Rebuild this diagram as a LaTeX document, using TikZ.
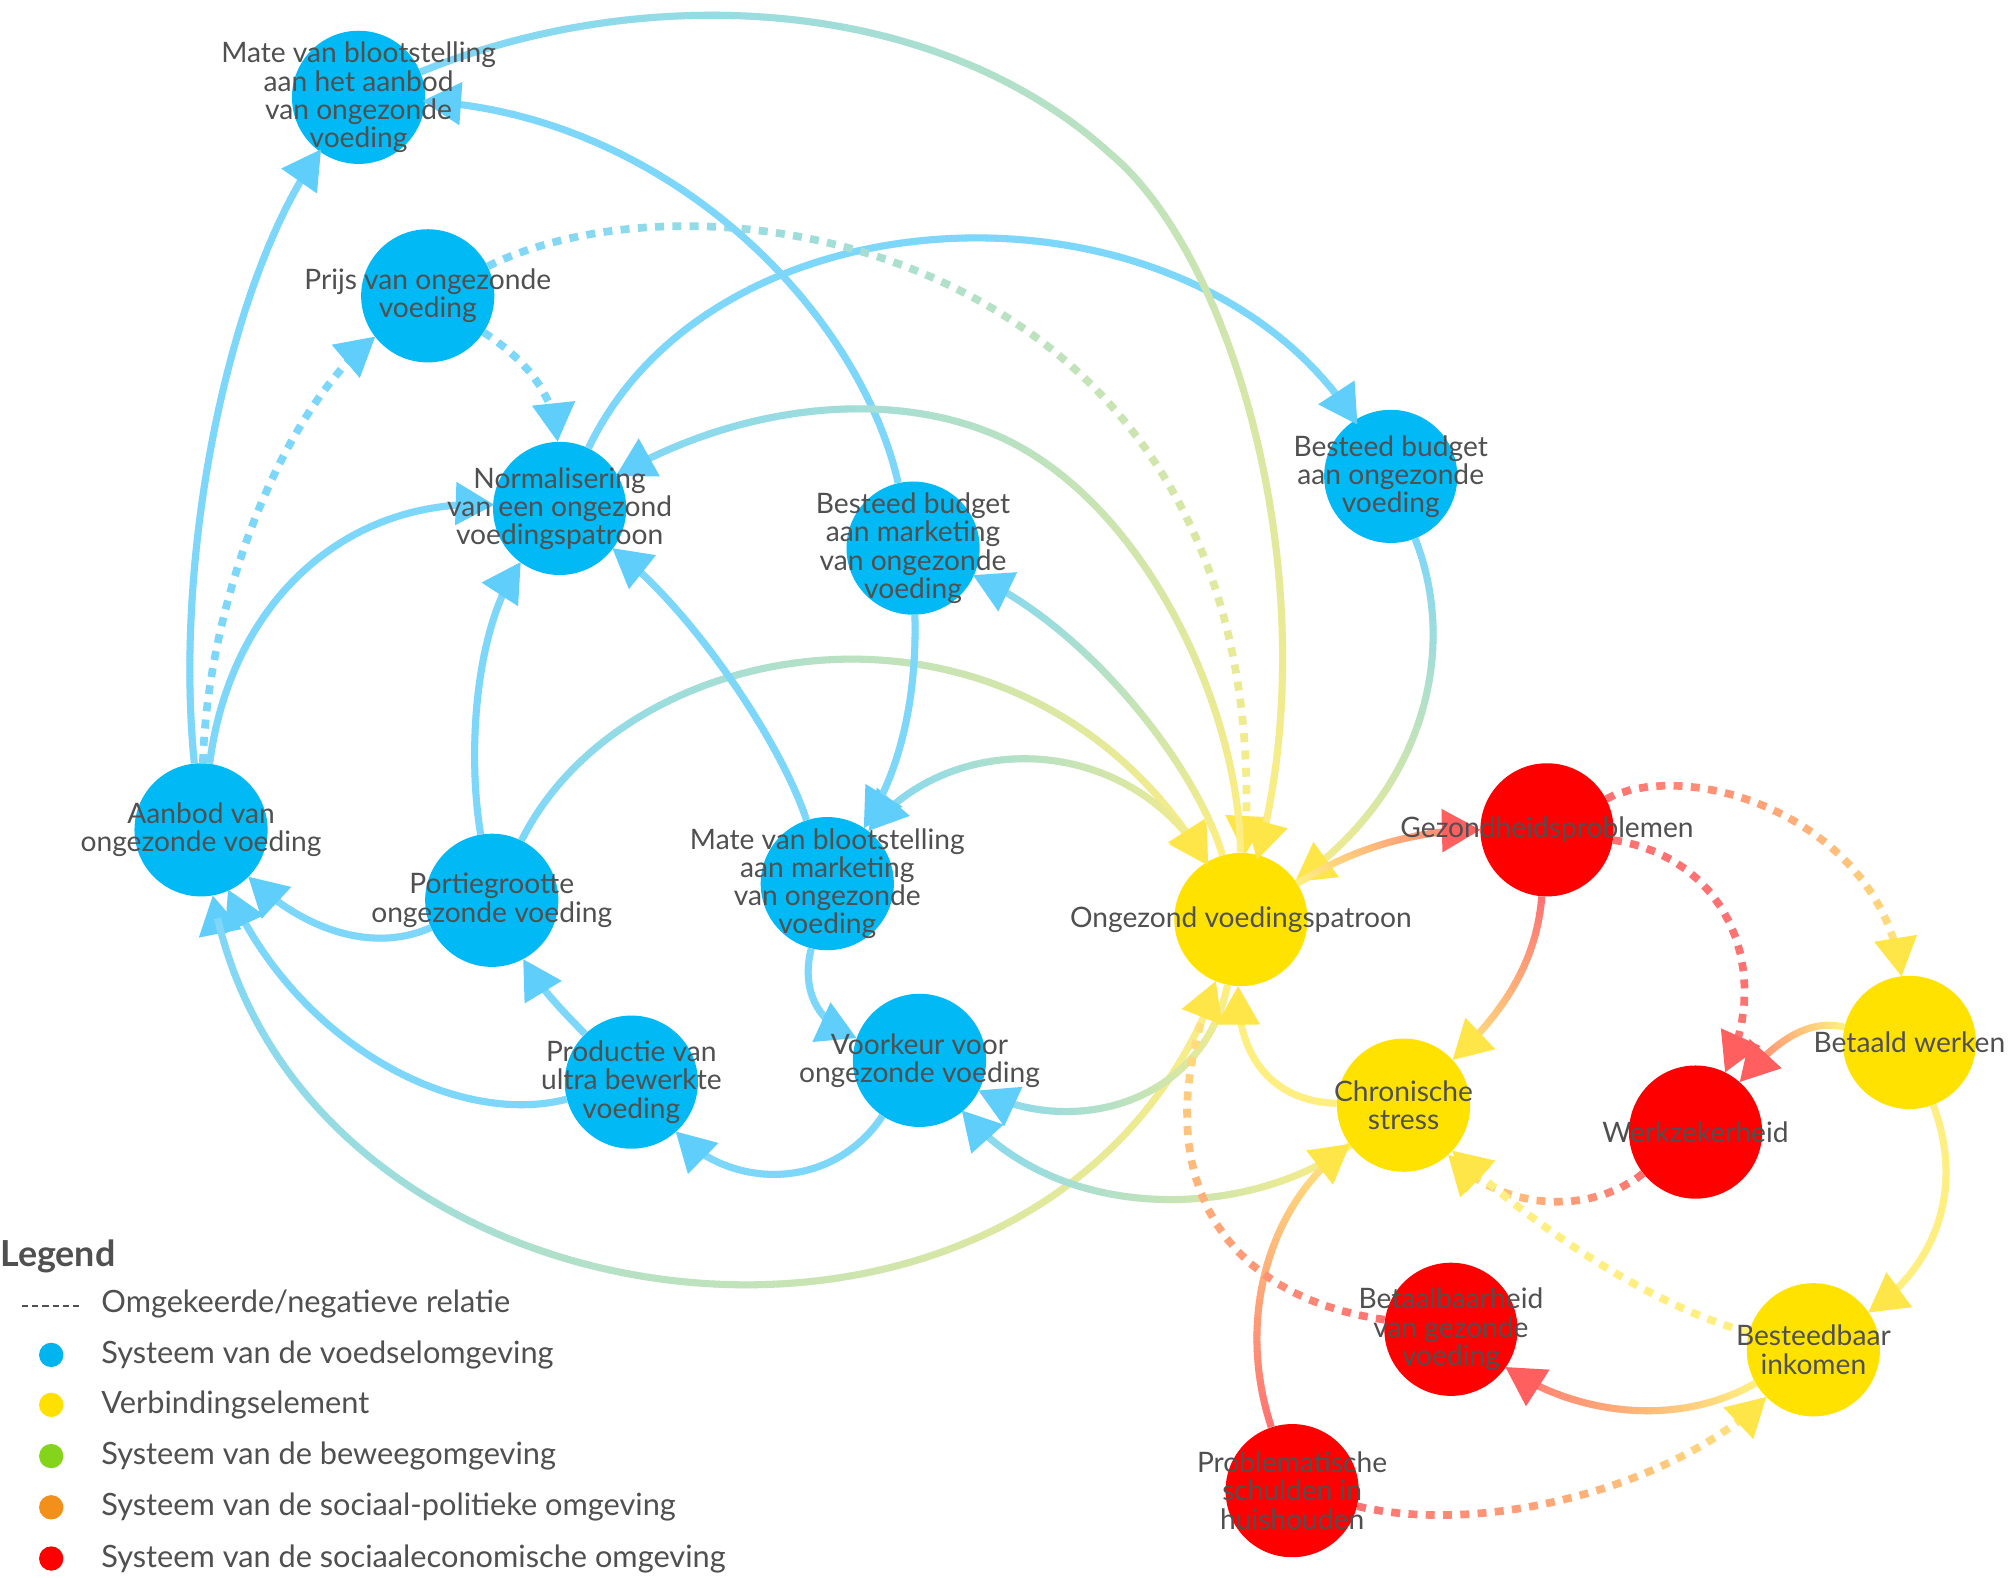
\documentclass[tikz,border=0pt]{standalone}
\usepackage{fontspec}
\setmainfont{Lato}
\usetikzlibrary{decorations.markings}
\definecolor{nb}{HTML}{00B9F5}
\definecolor{ny}{HTML}{FFE200}
\definecolor{nr}{HTML}{FF0000}
\definecolor{eb}{HTML}{7DD7FA}
\definecolor{ey}{HTML}{FFEE80}
\definecolor{er}{HTML}{FF7272}
\definecolor{ab}{HTML}{5FCEFA}
\definecolor{ay}{HTML}{FFE648}
\definecolor{ar}{HTML}{FF5F5F}
\definecolor{txt}{HTML}{505050}
\definecolor{lgb}{HTML}{00B4F0}
\definecolor{lgy}{HTML}{FFE000}
\definecolor{lgg}{HTML}{84D41C}
\definecolor{lgo}{HTML}{F39019}
\definecolor{lgr}{HTML}{FF0000}
\newcommand\gseg[4]{%
  \pgfmathtruncatemacro\mygf{\pgfkeysvalueof{/pgf/decoration/mark info/distance from start}/\pgfdecoratedpathlength*100}%
  \colorlet{gcur}{#2!\mygf!#1}%
  \draw[gcur, line width=#4] (0pt,0pt) -- (#3,0pt);}
\newcommand\tipEnd[1]{\fill[#1] (6pt,0pt) -- (-24pt,17pt) -- (-24pt,-17pt) -- cycle;}
\newcommand\tipStart[1]{\fill[#1] (-6pt,0pt) -- (24pt,17pt) -- (24pt,-17pt) -- cycle;}
\tikzset{
  circ/.style={circle, minimum size=104pt, inner sep=0pt, draw=none},
  bnode/.style={circ, fill=nb},
  ynode/.style={circ, fill=ny},
  rnode/.style={circ, fill=nr},
  lbl/.style={align=center, inner sep=0pt, text=txt, font=\fontsize{22}{22}\selectfont},
  legtxt/.style={anchor=west, inner sep=0pt, text=txt, font=\fontsize{24}{26}\selectfont},
  legdot/.style={circle, minimum size=19pt, inner sep=0pt, draw=none},
  lnk/.style n args={3}{decorate, decoration={markings,
      mark=between positions 0pt and -18pt step 2.5pt with {\gseg{#1}{#2}{3.2pt}{5.5pt}},
      mark=at position -6pt with {\tipEnd{#3}}}},
  dlnk/.style n args={3}{decorate, decoration={markings,
      mark=between positions 0pt and -22pt step 13.5pt with {\gseg{#1}{#2}{7pt}{6pt}},
      mark=at position -6pt with {\tipEnd{#3}}}},
  mlnk/.style n args={4}{decorate, decoration={markings,
      mark=at position 6pt with {\tipStart{#3}},
      mark=between positions 18pt and -18pt step 2.5pt with {\gseg{#1}{#2}{3.2pt}{5.5pt}},
      mark=at position -6pt with {\tipEnd{#4}}}},
}
\begin{document}
\begin{tikzpicture}[x=1pt,y=-1pt]
\useasboundingbox (0,0) rectangle (1568,1232);
\fill[white] (0,0) rectangle (1568,1232);
% nodes
\node[bnode] (ma) at (280,76) {};
\node[bnode] (prijs) at (334,231) {};
\node[bnode] (norm) at (437,397) {};
\node[bnode] (bbm) at (713,428) {};
\node[bnode] (bbo) at (1086,372) {};
\node[bnode] (aanbod) at (157,648) {};
\node[bnode] (portie) at (384,703) {};
\node[bnode] (mm) at (646,690) {};
\node[bnode] (prod) at (493,845) {};
\node[bnode] (voork) at (718,828) {};
\node[ynode] (ovp) at (969,718) {};
\node[rnode] (gez) at (1208,648) {};
\node[ynode] (cs) at (1096,863) {};
\node[rnode] (werk) at (1324,884) {};
\node[ynode] (bw) at (1491,814) {};
\node[rnode] (betaalb) at (1133,1038) {};
\node[ynode] (bi) at (1416,1054) {};
\node[rnode] (ps) at (1009,1164) {};
% edges
\path[lnk={eb}{eb}{ab}] (aanbod) .. controls (135,430) and (180,215) .. (ma);
\path[dlnk={eb}{eb}{ab}] (aanbod) .. controls (162,470) and (220,320) .. (prijs);
\path[lnk={eb}{eb}{ab}] (aanbod) .. controls (180,470) and (270,388) .. (norm);
\path[dlnk={eb}{eb}{ab}] (prijs) .. controls (412,282) and (434,310) .. (norm);
\path[lnk={eb}{eb}{ab}] (norm) .. controls (560,140) and (930,130) .. (bbo);
\path[dlnk={eb}{ey}{ay}] (prijs) .. controls (560,120) and (1000,200) .. (ovp);
\path[lnk={eb}{eb}{ab}] (bbm) .. controls (670,240) and (520,90) .. (ma);
\path[lnk={eb}{ey}{ay}] (ma) .. controls (502,-15) and (729,-5) .. (867,120) .. controls (967,204) and (1037,464) .. (ovp);
\path[lnk={ey}{eb}{ab}] (ovp) .. controls (968,560) and (900,400) .. (787,344) .. controls (700,302) and (580,315) .. (norm);
\path[lnk={ey}{eb}{ab}] (ovp) .. controls (935,600) and (850,490) .. (bbm);
\path[lnk={eb}{ey}{ay}] (portie) .. controls (490,490) and (800,440) .. (ovp);
\path[mlnk={eb}{ey}{ab}{ay}] (mm) .. controls (740,570) and (880,570) .. (ovp);
\path[lnk={eb}{eb}{ab}] (bbm) .. controls (716,540) and (705,600) .. (mm);
\path[lnk={eb}{eb}{ab}] (mm) .. controls (610,580) and (540,475) .. (norm);
\path[lnk={eb}{eb}{ab}] (portie) .. controls (365,590) and (370,490) .. (norm);
\path[lnk={eb}{eb}{ab}] (portie) .. controls (290,745) and (235,725) .. (aanbod);
\path[lnk={eb}{eb}{ab}] (prod) .. controls (440,790) and (420,770) .. (portie);
\path[lnk={eb}{eb}{ab}] (prod) .. controls (360,880) and (235,820) .. (aanbod);
\path[lnk={eb}{eb}{ab}] (mm) .. controls (625,775) and (640,800) .. (voork);
\path[lnk={eb}{eb}{ab}] (voork) .. controls (650,930) and (570,930) .. (prod);
\path[mlnk={eb}{ey}{ab}{ay}] (aanbod) .. controls (230,1055) and (820,1125) .. (ovp);
\path[lnk={ey}{eb}{ab}] (ovp) .. controls (940,860) and (840,890) .. (voork);
\path[lnk={ey}{eb}{ab}] (cs) .. controls (980,950) and (830,960) .. (voork);
\path[lnk={er}{ey}{ay}] (ps) .. controls (965,1030) and (990,940) .. (cs);
\path[lnk={eb}{ey}{ay}] (bbo) .. controls (1140,510) and (1110,620) .. (ovp);
\path[lnk={ey}{ey}{ay}] (cs) .. controls (990,860) and (965,820) .. (ovp);
\path[lnk={ey}{er}{ar}] (ovp) .. controls (1060,660) and (1110,648) .. (gez);
\path[lnk={er}{ey}{ay}] (gez) .. controls (1200,750) and (1175,790) .. (cs);
\path[dlnk={er}{er}{ar}] (gez) .. controls (1350,670) and (1385,760) .. (werk);
\path[dlnk={er}{ey}{ay}] (gez) .. controls (1320,590) and (1470,640) .. (bw);
\path[lnk={ey}{er}{ar}] (bw) .. controls (1410,795) and (1385,815) .. (werk);
\path[lnk={ey}{ey}{ay}] (bw) .. controls (1535,930) and (1510,990) .. (bi);
\path[dlnk={er}{ey}{ay}] (werk) .. controls (1240,950) and (1170,945) .. (cs);
\path[dlnk={ey}{ey}{ay}] (bi) .. controls (1290,1020) and (1200,960) .. (cs);
\path[lnk={ey}{er}{ar}] (bi) .. controls (1310,1115) and (1230,1105) .. (betaalb);
\path[dlnk={er}{ey}{ay}] (ps) .. controls (1160,1200) and (1310,1160) .. (bi);
\path[dlnk={er}{ey}{ay}] (betaalb) .. controls (940,1010) and (895,900) .. (ovp);
% labels
\node[lbl] (ma-l) at (ma) {Mate van blootstelling\\aan het aanbod\\van ongezonde\\voeding};
\node[lbl] (prijs-l) at (prijs) {Prijs van ongezonde\\voeding};
\node[lbl] (norm-l) at (norm) {Normalisering\\van een ongezond\\voedingspatroon};
\node[lbl] (bbm-l) at (bbm) {Besteed budget\\aan marketing\\van ongezonde\\voeding};
\node[lbl] (bbo-l) at (bbo) {Besteed budget\\aan ongezonde\\voeding};
\node[lbl] (aanbod-l) at (aanbod) {Aanbod van\\ongezonde voeding};
\node[lbl] (portie-l) at (portie) {Portiegrootte\\ongezonde voeding};
\node[lbl] (mm-l) at (mm) {Mate van blootstelling\\aan marketing\\van ongezonde\\voeding};
\node[lbl] (prod-l) at (prod) {Productie van\\ultra bewerkte\\voeding};
\node[lbl] (voork-l) at (voork) {Voorkeur voor\\ongezonde voeding};
\node[lbl] (ovp-l) at (ovp) {Ongezond voedingspatroon};
\node[lbl] (gez-l) at (gez) {Gezondheidsproblemen};
\node[lbl] (cs-l) at (cs) {Chronische\\stress};
\node[lbl] (werk-l) at (werk) {Werkzekerheid};
\node[lbl] (bw-l) at (bw) {Betaald werken};
\node[lbl] (betaalb-l) at (betaalb) {Betaalbaarheid\\van gezonde\\voeding};
\node[lbl] (bi-l) at (bi) {Besteedbaar\\inkomen};
\node[lbl] (ps-l) at (ps) {Problematische\\schulden in\\huishouden};
% legend
\node[anchor=west, inner sep=0pt, text=txt, font=\fontsize{28}{30}\selectfont\bfseries] (leg) at (0,981) {Legend};
\coordinate (lda) at (17,1020);
\coordinate (ldb) at (64,1020);
\draw[txt, line width=1.6pt, dash pattern=on 5pt off 3pt] (lda) -- (ldb);
\node[legtxt] (lt1) at (79,1018) {Omgekeerde/negatieve relatie};
\node[legdot, fill=lgb] (ld2) at (40,1058) {};
\node[legtxt] (lt2) at (79,1058) {Systeem van de voedselomgeving};
\node[legdot, fill=lgy] (ld3) at (40,1097) {};
\node[legtxt] (lt3) at (79,1097) {Verbindingselement};
\node[legdot, fill=lgg] (ld4) at (40,1137) {};
\node[legtxt] (lt4) at (79,1137) {Systeem van de beweegomgeving};
\node[legdot, fill=lgo] (ld5) at (40,1177) {};
\node[legtxt] (lt5) at (79,1177) {Systeem van de sociaal-politieke omgeving};
\node[legdot, fill=lgr] (ld6) at (40,1217) {};
\node[legtxt] (lt6) at (79,1217) {Systeem van de sociaaleconomische omgeving};
\end{tikzpicture}
\end{document}
